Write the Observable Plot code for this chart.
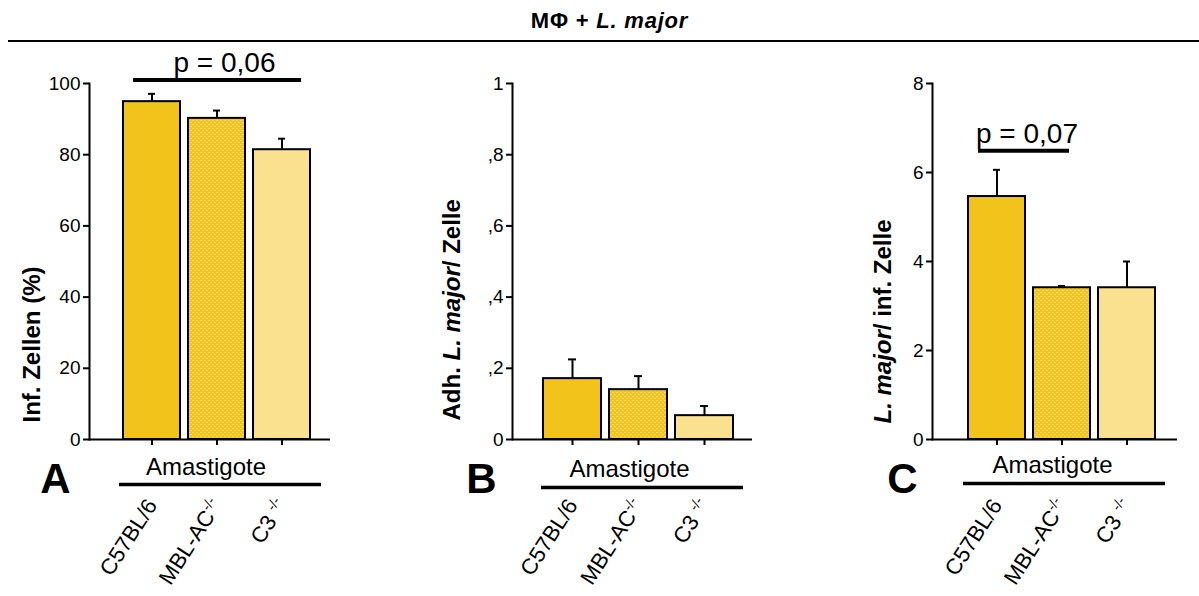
<!DOCTYPE html>
<html>
<head>
<meta charset="utf-8">
<script src="https://cdn.jsdelivr.net/npm/d3@7"></script>
<script src="https://cdn.jsdelivr.net/npm/@observablehq/plot@0.6"></script>
<style>
  html, body { margin: 0; padding: 0; background: #fff; }
  body { width: 1199px; height: 596px; position: relative; overflow: hidden;
         font-family: "Liberation Sans", Arial, sans-serif; color: #000; }
  #title { position: absolute; left: 0; top: 10px; width: 1199px; text-align: center;
           font-size: 22px; line-height: 22px; font-weight: bold; letter-spacing: 0.8px;
           padding-left: 20px; box-sizing: border-box; }
  #rule { position: absolute; left: 8px; top: 40px; width: 1191px; height: 2px; background: #000; }
  .panel { position: absolute; top: 44px; }
  .panel svg { overflow: visible; }
</style>
</head>
<body>
<div id="title">MΦ + <i>L. major</i></div>
<div id="rule"></div>
<div id="A" class="panel" style="left:0px"></div>
<div id="B" class="panel" style="left:420px"></div>
<div id="C" class="panel" style="left:840px"></div>
<script>
// ---------- data ----------
const groups = ["C57BL/6", "MBL-AC-/-", "C3 -/-"];
const fills = ["#F2C31A", "url(#dotted)", "#FAE18F"];

const infZellen = [94.9, 90.2, 81.4];
const infZellenErr = [2.2, 2.2, 3.1];

const adhLmajor = [0.171, 0.140, 0.067];
const adhLmajorErr = [0.054, 0.038, 0.027];

const lmajorInf = [5.46, 3.41, 3.41];
const lmajorInfErr = [0.60, 0.04, 0.59];

const yTicksA = [0, 20, 40, 60, 80, 100];
const yTickLabelsA = ["0", "20", "40", "60", "80", "100"];
const yTicksB = [0, 0.2, 0.4, 0.6, 0.8, 1];
const yTickLabelsB = ["0", ",2", ",4", ",6", ",8", "1"];
const yTicksC = [0, 2, 4, 6, 8];
const yTickLabelsC = ["0", "2", "4", "6", "8"];

const sigA = [{from: "C57BL/6", to: "C3 -/-", y: 101.0, label: "p = 0,06"}];
const sigC = [{from: "C57BL/6", to: "MBL-AC-/-", y: 6.49, label: "p = 0,07"}];

const groupLabel = "Amastigote";

// ---------- drawing ----------
const H = 552, MT = 39, MB = 157;

function panel(o) {
  const data = groups.map((g, i) => ({g, v: o.values[i], e: o.errs[i], fill: fills[i]}));
  const marks = [
    Plot.barY(data, {x: "g", y: "v", fill: "fill", stroke: "#000", strokeWidth: 2}),
    Plot.ruleX(data, {x: "g", y1: "v", y2: d => d.v + d.e, stroke: "#000", strokeWidth: 2}),
    Plot.tickY(data, {x: "g", y: d => d.v + d.e, stroke: "#000", strokeWidth: 2, insetLeft: 25, insetRight: 25}),
    Plot.axisY({ticks: o.ticks, tickFormat: d => o.tickLabels[o.ticks.indexOf(d)], tickSize: 6, tickPadding: 3,
                fontSize: 19, strokeWidth: 2, label: null}),
    Plot.axisX({tickSize: 6, tickPadding: 56, tickRotate: -57, fontSize: 22, strokeWidth: 2, label: null}),
    Plot.frame({anchor: "left", stroke: "#000", strokeWidth: 2}),
    Plot.ruleY([0], {stroke: "#000", strokeWidth: 2}),
    Plot.text([o.ylabel], {frameAnchor: "bottom-left", rotate: -90, textAnchor: "start", lineAnchor: "middle",
                           dx: o.ylabDx, dy: o.ylabDy, fontSize: 24, fontWeight: "bold"}),
    Plot.text([groupLabel], {frameAnchor: "bottom", lineAnchor: "middle", textAnchor: "middle",
                             dx: o.grpDx, dy: o.grpDy, fontSize: 24}),
    Plot.ruleY([0], {dy: o.grpLineDy, insetLeft: o.grpInsetL, insetRight: o.grpInsetR, stroke: "#000", strokeWidth: 3.5}),
    Plot.text([o.letter], {frameAnchor: "bottom-left", lineAnchor: "middle", textAnchor: "middle",
                           dx: o.letterDx, dy: 39.6, fontSize: 42, fontWeight: "bold"})
  ];
  if (o.sig) {
    marks.push(Plot.ruleY(o.sig, {x1: "from", x2: "to", y: "y", insetLeft: o.sigInsetL, insetRight: o.sigInsetR,
                                  stroke: "#000", strokeWidth: 4}));
    marks.push(Plot.text(o.sig, {x: "from", y: "y", text: "label", lineAnchor: "middle",
                                 dx: o.sigTextDx, dy: -16.5, fontSize: 28}));
  }
  const svg = Plot.plot({
    width: o.width, height: H,
    marginTop: MT, marginBottom: MB, marginLeft: o.ml, marginRight: o.mr,
    style: {fontFamily: "'Liberation Sans', Arial, sans-serif", color: "#000", background: "transparent", overflow: "visible"},
    x: {type: "band", domain: groups, range: o.range, paddingInner: o.padding, paddingOuter: o.padding / 2},
    y: {domain: o.domain},
    color: {type: "identity"},
    marks
  });
  // pattern for the dotted bar
  const defs = d3.select(svg).insert("defs", ":first-child");
  const pat = defs.append("pattern").attr("id", "dotted").attr("width", 4).attr("height", 4)
    .attr("patternUnits", "userSpaceOnUse");
  pat.append("rect").attr("width", 4).attr("height", 4).attr("fill", "#F3C41E");
  pat.append("rect").attr("x", 0).attr("y", 0).attr("width", 2).attr("height", 1).attr("fill", "#F9DA72");
  pat.append("rect").attr("x", 2).attr("y", 2).attr("width", 2).attr("height", 1).attr("fill", "#F9DA72");

  // superscripts
  d3.select(svg).selectAll("text").filter(function () { return /-\/-$/.test(this.textContent); }).each(function () {
    const s = this.textContent, base = s.replace(/-\/-$/, "");
    const t = d3.select(this); t.text(null);
    t.append("tspan").text(base);
    t.append("tspan").attr("dy", "-0.6em").attr("font-size", "14px").text("-/-");
  });
  // italic parts
  if (o.ylabelParts) {
    d3.select(svg).selectAll("text").filter(function () { return this.textContent === o.ylabel; }).each(function () {
      const t = d3.select(this); t.text(null);
      o.ylabelParts.forEach(([s, it]) => t.append("tspan").attr("font-style", it ? "italic" : null).text(s));
    });
  }
  document.getElementById(o.id).appendChild(svg);
}

panel({id: "A", width: 400, ml: 89, mr: 70, range: [118.5, 314], padding: 0.125,
  values: infZellen, errs: infZellenErr, domain: [0, 100], ticks: yTicksA, tickLabels: yTickLabelsA,
  ylabel: "Inf. Zellen (%)", ylabDx: -57, ylabDy: -17,
  grpDx: -4, grpDy: 27.6, grpLineDy: 45, grpInsetL: 30, grpInsetR: 9,
  letter: "A", letterDx: -34,
  sig: sigA, sigInsetL: 10, sigInsetR: 9, sigTextDx: 72.5});

panel({id: "B", width: 400, ml: 92, mr: 68, range: [117.75, 317.25], padding: 0.128,
  values: adhLmajor, errs: adhLmajorErr, domain: [0, 1], ticks: yTicksB, tickLabels: yTickLabelsB,
  ylabel: "Adh. L. major/ Zelle", ylabelParts: [["Adh. ", false], ["L. major", true], ["/ Zelle", false]],
  ylabDx: -60, ylabDy: -19,
  grpDx: -3, grpDy: 29.6, grpLineDy: 48, grpInsetL: 29, grpInsetR: 9,
  letter: "B", letterDx: -31});

panel({id: "C", width: 359, ml: 92, mr: 22, range: [123.25, 319.75], padding: 0.13,
  values: lmajorInf, errs: lmajorInfErr, domain: [0, 8], ticks: yTicksC, tickLabels: yTickLabelsC,
  ylabel: "L. major/ inf. Zelle", ylabelParts: [["L. major", true], ["/ inf. Zelle", false]],
  ylabDx: -49, ylabDy: -16,
  grpDx: -2.5, grpDy: 25.6, grpLineDy: 44, grpInsetL: 31, grpInsetR: 12,
  letter: "C", letterDx: -30,
  sig: sigC, sigInsetL: 10, sigInsetR: 21, sigTextDx: 30});
</script>
</body>
</html>
